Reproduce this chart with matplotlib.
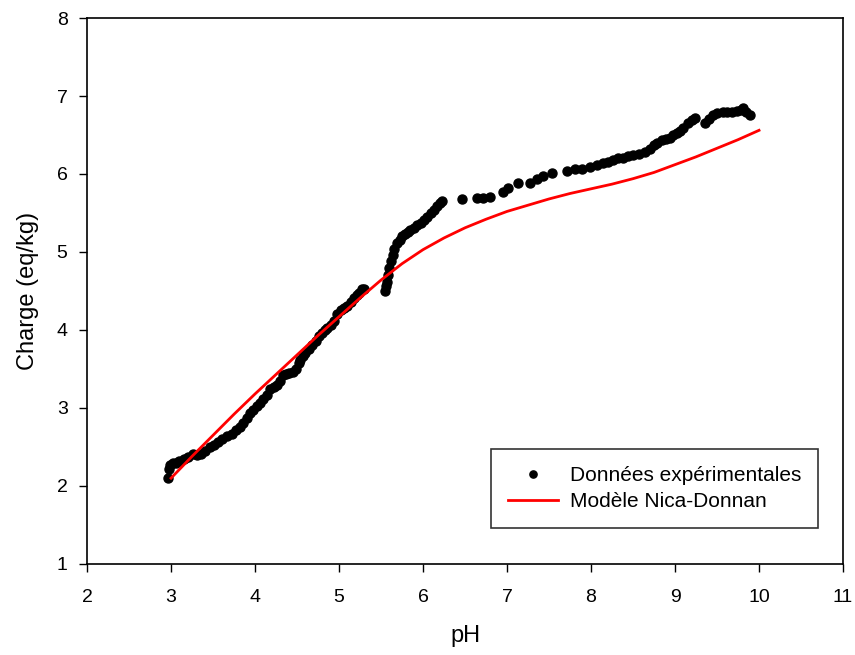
import matplotlib
matplotlib.use("Agg")
import matplotlib.pyplot as plt

plt.rcParams['font.family'] = ['Liberation Sans', 'DejaVu Sans']

# Experimental data (pH, charge eq/kg)
ph_exp = [2.96, 2.97, 2.99, 3.02, 3.06, 3.10, 3.15, 3.20, 3.26, 3.31, 3.36, 3.41, 3.46,
          3.51, 3.56, 3.61, 3.67, 3.72, 3.77, 3.82, 3.86, 3.90, 3.94, 3.98, 4.02, 4.06,
          4.10, 4.14, 4.18, 4.22, 4.26, 4.30, 4.33, 4.37, 4.41, 4.45, 4.49, 4.52, 4.54,
          4.57, 4.60, 4.64, 4.68, 4.72, 4.76, 4.80, 4.83, 4.86, 4.90, 4.94, 4.98, 5.02,
          5.06, 5.10, 5.14, 5.18, 5.21, 5.24, 5.27, 5.30,
          5.55, 5.56, 5.57, 5.58, 5.60, 5.62, 5.64, 5.66, 5.69, 5.72, 5.75, 5.78, 5.82, 5.85,
          5.89, 5.93, 5.97, 6.01, 6.05, 6.09, 6.13, 6.17, 6.20, 6.23,
          6.46, 6.64, 6.71, 6.80, 6.95, 7.01, 7.13, 7.27, 7.36, 7.43, 7.54, 7.71, 7.81,
          7.89, 7.99, 8.07, 8.14, 8.20, 8.26, 8.32, 8.38, 8.44, 8.50, 8.57, 8.64, 8.70,
          8.75, 8.79, 8.84, 8.89, 8.94, 8.98, 9.02, 9.06, 9.10, 9.15, 9.20, 9.24,
          9.36, 9.40, 9.45, 9.50, 9.57, 9.62, 9.68, 9.74, 9.78, 9.81, 9.85, 9.89]
charge_exp = [2.10, 2.22, 2.27, 2.29, 2.30, 2.32, 2.34, 2.37, 2.41, 2.40, 2.41, 2.45, 2.50,
              2.53, 2.57, 2.60, 2.64, 2.67, 2.72, 2.76, 2.81, 2.87, 2.93, 2.98, 3.02, 3.07,
              3.12, 3.17, 3.24, 3.27, 3.30, 3.35, 3.42, 3.44, 3.45, 3.46, 3.50, 3.58, 3.62,
              3.66, 3.70, 3.75, 3.81, 3.86, 3.92, 3.96, 4.00, 4.03, 4.07, 4.12, 4.20, 4.25,
              4.28, 4.31, 4.36, 4.41, 4.45, 4.48, 4.53, 4.52,
              4.50, 4.56, 4.62, 4.70, 4.80, 4.88, 4.96, 5.04, 5.11, 5.16, 5.20, 5.23, 5.26, 5.28,
              5.31, 5.34, 5.37, 5.41, 5.45, 5.50, 5.54, 5.59, 5.63, 5.65,
              5.68, 5.69, 5.69, 5.71, 5.77, 5.82, 5.88, 5.89, 5.94, 5.97, 6.01, 6.04, 6.06,
              6.06, 6.09, 6.11, 6.14, 6.16, 6.18, 6.20, 6.21, 6.23, 6.24, 6.26, 6.28, 6.32,
              6.37, 6.40, 6.43, 6.45, 6.46, 6.50, 6.53, 6.55, 6.59, 6.65, 6.69, 6.72,
              6.65, 6.71, 6.76, 6.78, 6.79, 6.80, 6.80, 6.81, 6.82, 6.84, 6.80, 6.76]

# Nica-Donnan model
ph_model = [3.0, 3.25, 3.5, 3.75, 4.0, 4.25, 4.5, 4.75, 5.0, 5.25, 5.5, 5.75, 6.0, 6.25,
            6.5, 6.75, 7.0, 7.25, 7.5, 7.75, 8.0, 8.25, 8.5, 8.75, 9.0, 9.25, 9.5, 9.75, 10.0]
charge_model = [2.10, 2.38, 2.65, 2.92, 3.18, 3.43, 3.68, 3.93, 4.17, 4.41, 4.64, 4.85, 5.03,
                5.18, 5.31, 5.42, 5.52, 5.60, 5.68, 5.75, 5.81, 5.87, 5.94, 6.02, 6.12,
                6.22, 6.33, 6.44, 6.56]

fig = plt.figure(figsize=(8.55, 6.55), dpi=100)
ax = fig.add_axes([0.1018, 0.139, 0.8842, 0.8335])

ax.plot(ph_exp, charge_exp, linestyle='none', marker='o', markersize=6.5,
        color='black', label='Données expérimentales', zorder=2)
ax.plot(ph_model, charge_model, color='#ff0000', linewidth=2,
        label='Modèle Nica-Donnan', zorder=3)

ax.set_xlim(2, 11)
ax.set_ylim(1, 8)
ax.set_xticks(range(2, 12))
ax.set_yticks(range(1, 9))
ax.tick_params(axis='both', direction='out', length=6, width=1, labelsize=14,
               top=False, right=False)
ax.tick_params(axis='x', pad=12)
ax.tick_params(axis='y', pad=8)
for s in ax.spines.values():
    s.set_linewidth(1.2)
    s.set_color('black')

ax.set_xlabel('pH', fontsize=17, labelpad=14)
ax.set_ylabel('Charge (eq/kg)', fontsize=17, labelpad=13)

leg = ax.legend(loc='lower right', bbox_to_anchor=(0.967, 0.066), borderaxespad=0,
                fontsize=15, frameon=True, fancybox=False, edgecolor='black',
                handlelength=2.4, borderpad=0.8, labelspacing=0.35, markerscale=0.8,
                handletextpad=0.6)
leg.get_frame().set_linewidth(1.2)

fig.savefig('out.png', dpi=100)
